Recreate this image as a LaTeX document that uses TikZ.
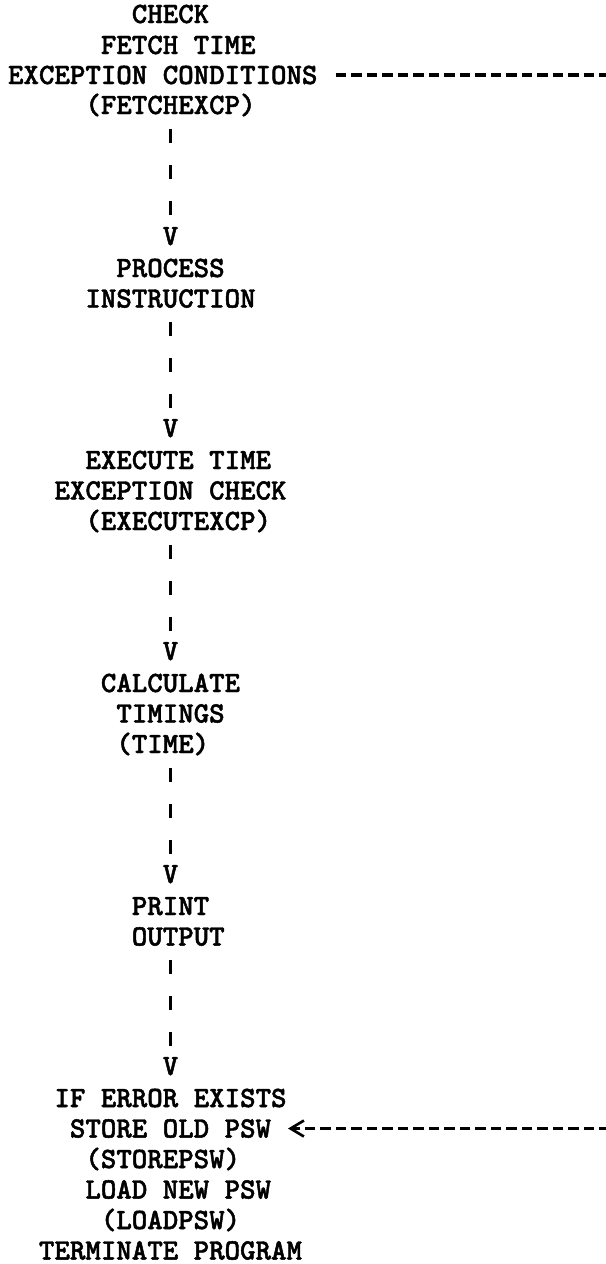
\documentclass[tikz,border=0pt]{standalone}
\usepackage{fontspec}
\newfontfamily\typew{lmmonolt10-bold.otf}[FakeBold=1.6]
\usetikzlibrary{arrows.meta}
\begin{document}
\begin{tikzpicture}[x=0.75pt,y=-0.75pt,
  txt/.style={font=\typew\fontsize{22.1}{26}\selectfont, inner sep=0pt, text height=13.5pt, text depth=0pt, anchor=center},
  vbar/.style={line width=2.4pt, dash pattern=on 10.5pt off 16.5pt, shorten <=11pt, shorten >=1pt},
  hdash/.style={line width=2.5pt, dash pattern=on 7.8pt off 3.825pt},
  chev/.style={-{Straight Barb[length=10pt,width=12pt,line width=2pt]}}
]
\useasboundingbox (0,0) rectangle (606,1264);
% block 1
\node[txt] (c1) at (170.5,14) {CHECK};
\node[txt] (c2) at (178.25,45) {FETCH TIME};
\node[txt] (c3) at (162.75,75) {EXCEPTION CONDITIONS};
\node[txt] (c4) at (170.5,105) {(FETCHEXCP)};
\node[txt] (v1) at (170.5,236) {V};
% block 2
\node[txt] (p1) at (170.5,268) {PROCESS};
\node[txt] (p2) at (170.5,298.5) {INSTRUCTION};
\node[txt] (v2) at (170.5,428) {V};
% block 3
\node[txt] (e1) at (178.25,460) {EXECUTE TIME};
\node[txt] (e2) at (170.5,490.5) {EXCEPTION CHECK};
\node[txt] (e3) at (178.25,521) {(EXECUTEXCP)};
\node[txt] (v3) at (170.5,651) {V};
% block 4
\node[txt] (t1) at (170.5,683) {CALCULATE};
\node[txt] (t2) at (170.5,713.5) {TIMINGS};
\node[txt] (t3) at (162.75,744) {(TIME)};
\node[txt] (v4) at (170.5,874) {V};
% block 5
\node[txt] (o1) at (170.5,906) {PRINT};
\node[txt] (o2) at (178.25,936.5) {OUTPUT};
\node[txt] (v5) at (170.5,1066) {V};
% block 6
\node[txt] (s1) at (170.5,1098) {IF ERROR EXISTS};
\node[txt] (s2) at (170.5,1128.5) {STORE OLD PSW};
\node[txt] (s3) at (162.75,1159) {(STOREPSW)};
\node[txt] (s4) at (178.25,1189.5) {LOAD NEW PSW};
\node[txt] (s5) at (170.5,1220) {(LOADPSW)};
\node[txt] (s6) at (170.5,1250.5) {TERMINATE PROGRAM};
% vertical connectors
\draw[vbar] (c4.south -| v1.north) -- (v1.north);
\draw[vbar] (p2.south -| v2.north) -- (v2.north);
\draw[vbar] (e3.south -| v3.north) -- (v3.north);
\draw[vbar] (t3.south -| v4.north) -- (v4.north);
\draw[vbar] (o2.south -| v5.north) -- (v5.north);
% horizontal connectors
\coordinate (rt) at (612,75);
\coordinate (rb) at (609.75,1128.5);
\draw[hdash, shorten <=13.5pt] (c3.east) -- (rt);
\draw[hdash, chev, shorten >=12.5pt] (rb) -- (s2.east);
\end{tikzpicture}
\end{document}
